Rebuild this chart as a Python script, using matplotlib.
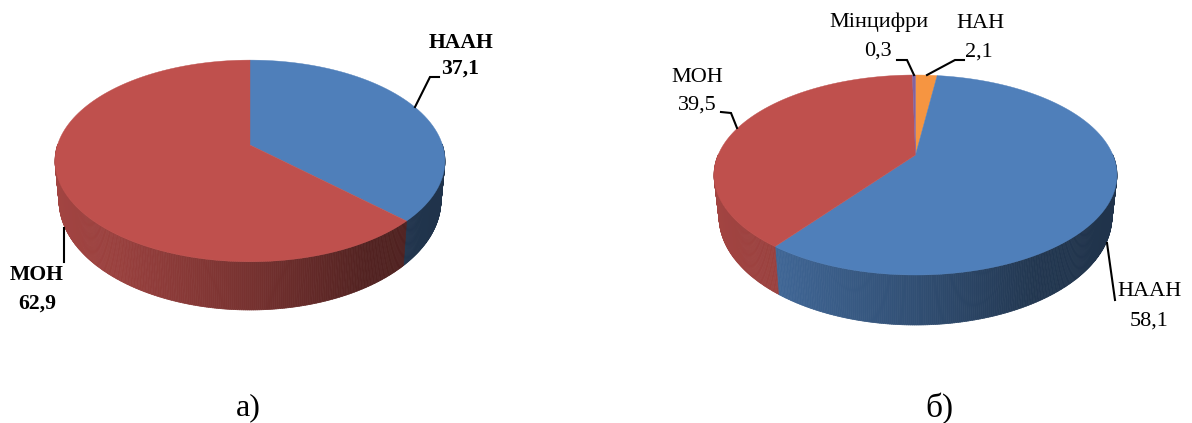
"""Two flattened 3D pie charts: shares by agency, panels a) and б)."""
import numpy as np
import matplotlib
matplotlib.use("Agg")
import matplotlib.pyplot as plt
from matplotlib.collections import PolyCollection
from matplotlib.path import Path
from matplotlib.transforms import Affine2D, Transform

plt.rcParams["font.family"] = ["Liberation Serif", "DejaVu Serif"]

NAMES_A = ["НААН", "МОН"]
VALUES_A = [37.1, 62.9]
COLORS_A = ["#4f7fba", "#bf504d"]

NAMES_B = ["НАН", "НААН", "МОН", "Мінцифри"]
VALUES_B = [2.1, 58.1, 39.5, 0.3]
COLORS_B = ["#f69541", "#4f7fba", "#bf504d", "#8064a2"]

# wall brightness across the pie width
SHADE_T = [0.0, 0.16, 0.5, 0.8, 1.0]
SHADE_S = [0.85, 0.80, 0.62, 0.43, 0.40]


class Disc(Transform):
    """Perspective map of the unit circle to pixel coordinates."""
    input_dims = output_dims = 2

    def __init__(self, cx, a, b, c, k):
        super().__init__()
        self.p = (cx, a, b, c, k)

    def transform_non_affine(self, xy):
        cx, a, b, c, k = self.p
        xy = np.asarray(xy, dtype=float)
        d = 1 + k * xy[:, 1]
        return np.column_stack([cx + a * xy[:, 0] / d, (c - b * xy[:, 1]) / d])

    def transform_path_non_affine(self, path):
        # flatten the wedge curves first, the map does not keep beziers
        poly = path.to_polygons(Affine2D().scale(1000), closed_only=True)[0]
        return Path(self.transform_non_affine(poly / 1000), closed=True)


def pie3d(ax, values, colors, top, bottom, left, right):
    wedges, _ = ax.pie(values, colors=colors, startangle=90, counterclock=False)
    t_disc, b_disc = Disc(*top), Disc(*bottom)

    edges = 90 - np.cumsum([0] + list(values)) * 3.6
    polys, cols = [], []
    for i, col in enumerate(colors):
        n = max(2, int(abs(edges[i] - edges[i + 1]) / 0.5))
        th = np.radians(np.linspace(edges[i], edges[i + 1], n + 1))
        rim = np.column_stack([np.cos(th), np.sin(th)])
        up, lo = t_disc.transform(rim), b_disc.transform(rim)
        rgb = np.array(matplotlib.colors.to_rgb(col))
        for j in range(n):
            if rim[j, 1] > 0.0 and rim[j + 1, 1] > 0.0:
                continue  # back of the pie, hidden
            polys.append([up[j], up[j + 1], lo[j + 1], lo[j]])
            t = ((up[j, 0] + up[j + 1, 0]) / 2 - left) / (right - left)
            cols.append(rgb * np.interp(t, SHADE_T, SHADE_S))
    ax.add_collection(PolyCollection(polys, facecolors=cols, edgecolors=cols,
                                     linewidths=0.5, zorder=1))
    for w, col in zip(wedges, colors):
        w.set_transform(t_disc + ax.transData)
        w.set_zorder(2)
        w.set_edgecolor(col)
        w.set_linewidth(0.3)


def leader(ax, xs, ys):
    ax.plot(xs, ys, color="black", lw=1.5, solid_joinstyle="miter", zorder=3)


def main():
    fig = plt.figure(figsize=(11.92, 4.23), dpi=100)
    ax = fig.add_axes([0, 0, 1, 1])

    pie3d(ax, VALUES_A, COLORS_A, (250, 192.5, 75.4, 145, 0.158),
          (250, 188.6, 78, 183, 0.158), 55, 445)
    pie3d(ax, VALUES_B, COLORS_B, (915.5, 197.4, 65, 155, 0.2),
          (915.5, 192.5, 65, 195, 0.2), 714, 1117)

    ax.set_aspect("auto")
    ax.set_xlim(0, 1192)
    ax.set_ylim(423, 0)
    ax.axis("off")

    leader(ax, [415, 430, 439], [107, 77, 77])
    leader(ax, [64, 64], [228, 262])
    leader(ax, [897, 907, 914], [60, 60, 75])
    leader(ax, [964, 955, 927], [60, 60, 75])
    leader(ax, [721, 731, 737], [112, 113, 128])
    leader(ax, [1107, 1115], [243, 300])

    def label(x, y, s, bold=False, size=16):
        ax.text(x, y, s, ha="center", va="center", fontsize=size,
                fontweight="bold" if bold else "normal", color="black")

    label(461, 43, NAMES_A[0], True, 15.6)
    label(460, 69, f"{VALUES_A[0]}".replace(".", ","), True, 15.6)
    label(37, 275, NAMES_A[1], True, 15.6)
    label(37, 304, f"{VALUES_A[1]}".replace(".", ","), True, 15.6)

    label(980, 24, NAMES_B[0])
    label(979, 52, f"{VALUES_B[0]}".replace(".", ","))
    label(1150, 292, NAMES_B[1])
    label(1149, 321, f"{VALUES_B[1]}".replace(".", ","))
    label(697, 78, NAMES_B[2])
    label(697, 105, f"{VALUES_B[2]}".replace(".", ","))
    label(879, 22, NAMES_B[3])
    label(878, 51, f"{VALUES_B[3]}".replace(".", ","))

    label(248, 408, "а)", size=23)
    label(939, 408, "б)", size=24)

    fig.savefig("out.png", dpi=100)


if __name__ == "__main__":
    main()
